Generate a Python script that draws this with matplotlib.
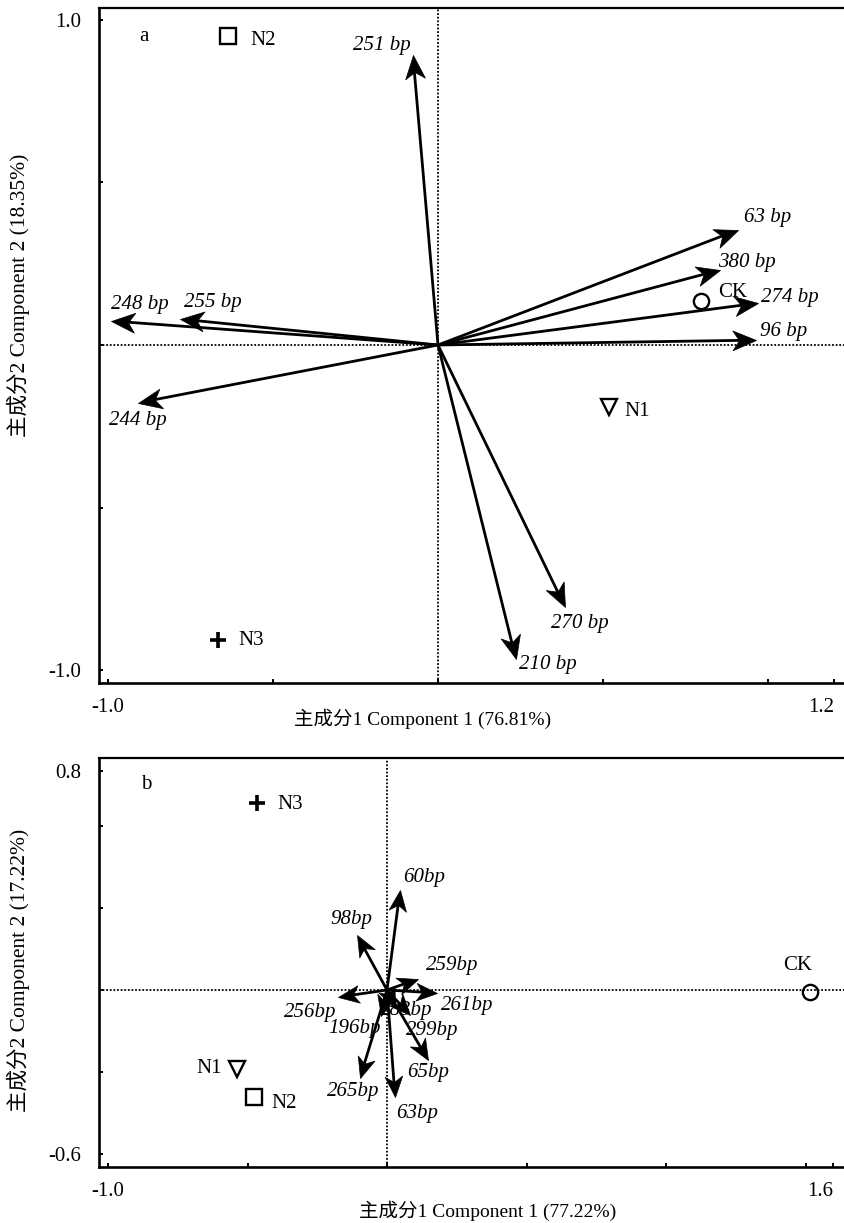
import numpy as np
import matplotlib
matplotlib.use("Agg")
import matplotlib.pyplot as plt
from matplotlib.path import Path
from matplotlib.markers import MarkerStyle
from matplotlib.transforms import Affine2D

plt.rcParams['font.family'] = ['Liberation Serif', 'Noto Sans CJK SC']
plt.rcParams['axes.unicode_minus'] = False

# ---- panel a: fragment loadings and sample scores ----
a_frag = ['251 bp', '63 bp', '380 bp', '274 bp', '96 bp',
          '248 bp', '255 bp', '244 bp', '270 bp', '210 bp']
a_pc1 = [-0.076, 0.909, 0.855, 0.970, 0.964, -0.991, -0.782, -0.909, 0.385, 0.236]
a_pc2 = [0.892, 0.354, 0.231, 0.129, 0.015, 0.074, 0.080, -0.178, -0.806, -0.966]
a_samples = ['CK', 'N1', 'N2', 'N3']
a_s1 = [0.797, 0.518, -0.636, -0.667]
a_s2 = [0.135, -0.191, 0.951, -0.908]

# ---- panel b ----
b_frag = ['60bp', '98bp', '259bp', '261bp', '256bp', '265bp',
          '63bp', '65bp', '283bp', '299bp', '196bp']
b_pc1 = [0.047, -0.108, 0.111, 0.179, -0.176, -0.097, 0.029, 0.147, 0.029, 0.082, -0.022]
b_pc2 = [0.365, 0.201, 0.040, -0.011, -0.026, -0.321, -0.391, -0.255, -0.066, -0.091, -0.095]
b_samples = ['CK', 'N1', 'N2', 'N3']
b_s1 = [1.516, -0.538, -0.477, -0.466]
b_s2 = [-0.007, -0.288, -0.390, 0.682]

# label offsets (points) relative to arrow tips / sample symbols
a_frag_off = [(-22, 7), (21, 9), (19, 5), (23, 4), (20, 6),
              (21, 12), (24, 12), (0, -13), (11, -12), (23, -4)]
b_frag_off = [(17, 9), (-4, 11), (25, 10), (22, -9), (-20, -11), (-5, -10),
              (16, -12), (0, -9), (8, -2), (16, -11), (-19, -9)]
a_samp_off = [(23, 6), (20, -3), (25, -3), (24, 0)]
b_samp_off = [(-9, 19), (-20, 0), (22, -5), (24, -1)]

sample_marker = {'CK': 'o', 'N1': 'v', 'N2': 's', 'N3': '+'}

# stealth-style arrowhead, tip at the origin pointing along +x
HEAD = Path([(0, 0), (-1, 0.42), (-0.72, 0), (-1, -0.42), (0, 0)],
            [Path.MOVETO, Path.LINETO, Path.LINETO, Path.LINETO, Path.CLOSEPOLY])

W, H = 844, 1223
fig = plt.figure(figsize=(W / 100, H / 100), dpi=100)


def make_axes(px_left, px_top, px_bottom, px_right, xlim, ylim):
    ax = fig.add_axes([px_left / W, 1 - px_bottom / H,
                       (px_right - px_left) / W, (px_bottom - px_top) / H])
    ax.set_xlim(*xlim)
    ax.set_ylim(*ylim)
    for s in ['left', 'bottom']:
        ax.spines[s].set_linewidth(1.9)
    ax.spines['top'].set_linewidth(1.6)
    ax.spines['right'].set_linewidth(1.6)
    ax.tick_params(direction='in', length=3, width=1.4, labelsize=15,
                   top=False, right=False)
    ax.tick_params(axis='x', pad=11)
    ax.tick_params(axis='y', pad=13)
    ax.axhline(0, color='k', lw=1.3, ls=(0, (1, 1)), zorder=1)
    ax.axvline(0, color='k', lw=1.3, ls=(0, (1, 1)), zorder=1)
    return ax


def draw_arrows(ax, xs, ys, names, offs, head_ms):
    head_px = head_ms * 0.5 / 72 * 100
    o = ax.transData.transform((0, 0))
    inv = ax.transData.inverted()
    for x, y, name, (dx, dy) in zip(xs, ys, names, offs):
        t = ax.transData.transform((x, y))
        v = t - o
        u = v / np.hypot(*v)
        end = inv.transform(t - u * head_px * 0.6)
        ax.plot([0, end[0]], [0, end[1]], color='k', lw=2.0,
                solid_capstyle='butt', zorder=3)
        ang = np.degrees(np.arctan2(v[1], v[0]))
        m = MarkerStyle(HEAD, transform=Affine2D().rotate_deg(ang))
        ax.plot([x], [y], marker=m, ms=head_ms, color='k', mec='k',
                mew=0.5, ls='none', zorder=4)
        ax.annotate(name, (x, y), xytext=(dx, dy), textcoords='offset points',
                    ha='center', va='center', style='italic', fontsize=15,
                    zorder=5)


def draw_samples(ax, xs, ys, names, offs):
    for x, y, name, (dx, dy) in zip(xs, ys, names, offs):
        mk = sample_marker[name]
        if mk == '+':
            ax.plot([x], [y], marker='+', ms=12, mew=2.6, color='k', ls='none', zorder=4)
        else:
            ax.plot([x], [y], marker=mk, ms=11 if mk != 'v' else 12,
                    mfc='none', mec='k', mew=1.7, ls='none', zorder=4)
        ax.annotate(name, (x, y), xytext=(dx, dy), textcoords='offset points',
                    ha='center', va='center', fontsize=15, zorder=5)


def right_align_last_xlabel(ax):
    labels = ax.get_xticklabels()
    labels[-1].set_horizontalalignment('right')
    labels[-1].set_x(labels[-1].get_position()[0])


# ---- panel a ----
ax1 = make_axes(99, 8, 683, 880, ((99 - 438) / 330, (880 - 438) / 330),
                ((345 - 683) / 325, (345 - 8) / 325))
ax1.set_xticks([-1.0, -0.5, 0, 0.5, 1.0, 1.2])
ax1.set_xticklabels(['-1.0', '', '', '', '', '1.2'])
ax1.get_xticklabels()[-1].set_horizontalalignment('right')
ax1.set_yticks([-1.0, -0.5, 0, 0.5, 1.0])
ax1.set_yticklabels(['-1.0', '', '', '', '1.0'])
draw_arrows(ax1, a_pc1, a_pc2, a_frag, a_frag_off, 34)
draw_samples(ax1, a_s1, a_s2, a_samples, a_samp_off)
ax1.text(0.057, 0.958, 'a', transform=ax1.transAxes, fontsize=15,
         ha='center', va='center')
ax1.set_xlabel('主成分1 Component 1 (76.81%)', fontsize=14)
ax1.set_ylabel('主成分2 Component 2 (18.35%)', fontsize=15.5)
ax1.xaxis.set_label_coords(0.414, -0.038)
ax1.yaxis.set_label_coords(-0.088, 0.575)

# ---- panel b ----
ax2 = make_axes(99, 758, 1167, 880, ((99 - 387) / 279, (880 - 387) / 279),
                ((990 - 1167) / 274, (990 - 758) / 274))
ax2.set_xticks([-1.0, -0.5, 0, 0.5, 1.0, 1.5, 1.6])
ax2.set_xticklabels(['-1.0', '', '', '', '', '', '1.6'])
ax2.get_xticklabels()[-1].set_horizontalalignment('right')
ax2.set_yticks([-0.6, -0.3, 0, 0.3, 0.6, 0.8])
ax2.set_yticklabels(['-0.6', '', '', '', '', '0.8'])
draw_arrows(ax2, b_pc1, b_pc2, b_frag, b_frag_off, 30)
draw_samples(ax2, b_s1, b_s2, b_samples, b_samp_off)
ax2.text(0.06, 0.934, 'b', transform=ax2.transAxes, fontsize=15,
         ha='center', va='center')
ax2.set_xlabel('主成分1 Component 1 (77.22%)', fontsize=14)
ax2.set_ylabel('主成分2 Component 2 (17.22%)', fontsize=15.5)
ax2.xaxis.set_label_coords(0.497, -0.082)
ax2.yaxis.set_label_coords(-0.088, 0.48)

fig.savefig('out.png', dpi=100)
